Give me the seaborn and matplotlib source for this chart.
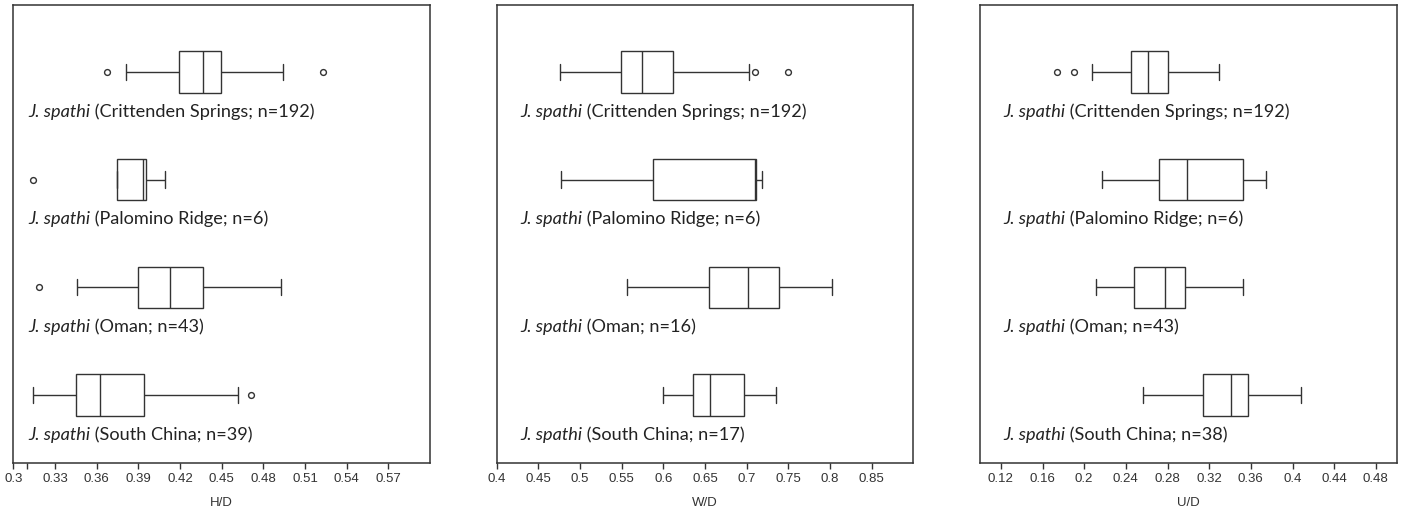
import numpy as np
import pandas as pd
import matplotlib
matplotlib.use("Agg")
import matplotlib.pyplot as plt
import matplotlib.transforms as mtransforms
import seaborn as sns

# ---------------- data ----------------
groups = ["Crittenden Springs", "Palomino Ridge", "Oman", "South China"]

# H/D : whisker-low, Q1, median, Q3, whisker-high
hd_n = [192, 6, 43, 39]
hd_whislo = [0.381, 0.375, 0.346, 0.314]
hd_q1     = [0.4195, 0.375, 0.390, 0.345]
hd_med    = [0.4366, 0.3936, 0.413, 0.3624]
hd_q3     = [0.4495, 0.3953, 0.4368, 0.3939]
hd_whishi = [0.494, 0.4092, 0.4927, 0.4618]
hd_out_groups = ["Crittenden Springs", "Crittenden Springs", "Palomino Ridge", "Oman", "South China"]
hd_out_vals   = [0.3677, 0.5227, 0.3144, 0.3187, 0.4709]

# W/D
wd_n = [192, 6, 16, 17]
wd_whislo = [0.476, 0.4772, 0.556, 0.600]
wd_q1     = [0.5488, 0.5872, 0.6544, 0.636]
wd_med    = [0.574, 0.7104, 0.7012, 0.656]
wd_q3     = [0.612, 0.7112, 0.7388, 0.6968]
wd_whishi = [0.7024, 0.718, 0.802, 0.7348]
wd_out_groups = ["Crittenden Springs", "Crittenden Springs"]
wd_out_vals   = [0.7104, 0.750]

# U/D
ud_n = [192, 6, 43, 38]
ud_whislo = [0.2072, 0.2168, 0.2114, 0.2568]
ud_q1     = [0.2446, 0.2722, 0.2478, 0.3138]
ud_med    = [0.261, 0.2984, 0.2779, 0.3406]
ud_q3     = [0.2802, 0.3528, 0.2971, 0.3573]
ud_whishi = [0.3298, 0.3742, 0.3522, 0.4085]
ud_out_groups = ["Crittenden Springs", "Crittenden Springs"]
ud_out_vals   = [0.1736, 0.1902]

hd_ticks = [0.3, 0.31, 0.33, 0.36, 0.39, 0.42, 0.45, 0.48, 0.51, 0.54, 0.57]
hd_ticklabels = ["0.3", "", "0.33", "0.36", "0.39", "0.42", "0.45", "0.48", "0.51", "0.54", "0.57"]
wd_ticks = [0.4, 0.45, 0.5, 0.55, 0.6, 0.65, 0.7, 0.75, 0.8, 0.85]
wd_ticklabels = ["0.4", "0.45", "0.5", "0.55", "0.6", "0.65", "0.7", "0.75", "0.8", "0.85"]
ud_ticks = [0.12, 0.16, 0.2, 0.24, 0.28, 0.32, 0.36, 0.4, 0.44, 0.48]
ud_ticklabels = ["0.12", "0.16", "0.2", "0.24", "0.28", "0.32", "0.36", "0.4", "0.44", "0.48"]

# ---------------- style ----------------
sns.set_theme(style="white")
plt.rcParams["font.family"] = ["Liberation Sans", "DejaVu Sans"]

LINE = "#333333"
fig = plt.figure(figsize=(14.08, 5.12), dpi=100)

panels = [
    dict(left=13.3, xlim=(0.3, 0.6), xlabel="H/D", n=hd_n,
         stats=(hd_whislo, hd_q1, hd_med, hd_q3, hd_whishi),
         og=hd_out_groups, ov=hd_out_vals, ticks=hd_ticks, tl=hd_ticklabels, lx=0.035),
    dict(left=496.7, xlim=(0.4, 0.9), xlabel="W/D", n=wd_n,
         stats=(wd_whislo, wd_q1, wd_med, wd_q3, wd_whishi),
         og=wd_out_groups, ov=wd_out_vals, ticks=wd_ticks, tl=wd_ticklabels, lx=0.056),
    dict(left=980.0, xlim=(0.1, 0.5), xlabel="U/D", n=ud_n,
         stats=(ud_whislo, ud_q1, ud_med, ud_q3, ud_whishi),
         og=ud_out_groups, ov=ud_out_vals, ticks=ud_ticks, tl=ud_ticklabels, lx=0.056),
]

W, H = 1408, 512
ax_w = 416.7 / W
ax_b = 1 - 463 / H
ax_h = (463 - 5) / H

for p in panels:
    ax = fig.add_axes([p["left"] / W, ax_b, ax_w, ax_h])
    rows = []
    for i, g in enumerate(groups):
        for arr in p["stats"]:
            rows.append({"group": g, "value": arr[i]})
    df = pd.DataFrame(rows)
    sns.boxplot(data=df, x="value", y="group", order=groups, orient="y",
                whis=(0, 100), width=0.386, color="white", linecolor=LINE,
                linewidth=1.0, saturation=1, ax=ax, capwidths=0.15)
    odf = pd.DataFrame({"group": p["og"], "value": p["ov"]})
    sns.stripplot(data=odf, x="value", y="group", order=groups, orient="y",
                  jitter=False, size=4.2, color="white", edgecolor=LINE,
                  linewidth=1.0, ax=ax)
    ax.set_xlim(*p["xlim"])
    ax.set_ylim(3.63, -0.62)
    ax.set_yticks([])
    ax.set_ylabel("")
    ax.set_xticks(p["ticks"])
    ax.set_xticklabels(p["tl"])
    ax.tick_params(axis="x", direction="out", length=4, width=1, color=LINE,
                   pad=3, labelsize=9.5, labelcolor="#333333", bottom=True)
    ax.set_xlabel(p["xlabel"], fontsize=9.5, color="#333333", labelpad=9)
    for s in ax.spines.values():
        s.set_visible(True)
        s.set_color(LINE)
        s.set_linewidth(1.1)
    trans = mtransforms.blended_transform_factory(ax.transAxes, ax.transData)
    for i, g in enumerate(groups):
        t1 = ax.text(p["lx"], i + 0.37, "J. spathi", transform=trans,
                     fontfamily="Lato", fontstyle="italic", fontsize=13.1,
                     color="#222222", va="center", ha="left")
        ax.annotate(f" ({g}; n={p['n'][i]})", xy=(1, 0), xycoords=t1,
                    va="bottom", ha="left", fontfamily="Lato", fontsize=13.1,
                    color="#222222")

fig.savefig("out.png", dpi=100)
